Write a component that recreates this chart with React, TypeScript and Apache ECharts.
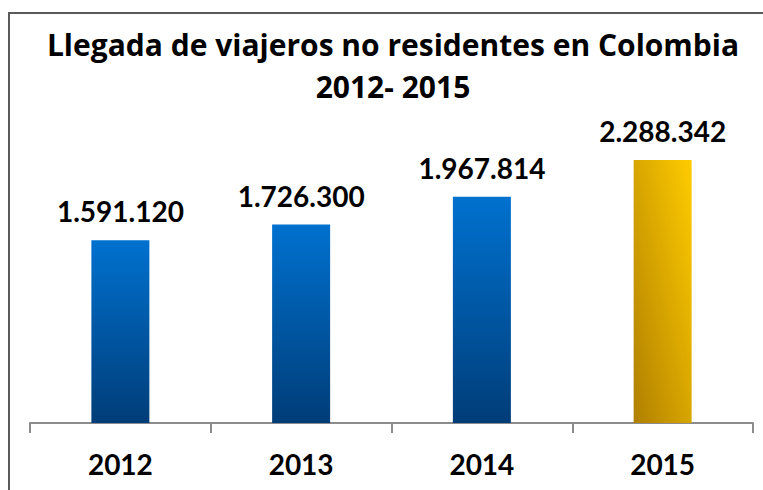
import React, { useEffect, useRef } from "react";
import * as echarts from "echarts";

const categories = ["2012", "2013", "2014", "2015"];
const values = [1591120, 1726300, 1967814, 2288342];
const valueLabels = ["1.591.120", "1.726.300", "1.967.814", "2.288.342"];
const titleLines = ["Llegada de viajeros no residentes en Colombia", "2012- 2015"];

const FONT = "Lato, 'Open Sans', sans-serif";
const TITLE_FONT = "'Open Sans', Lato, sans-serif";

export default function App() {
  const ref = useRef<HTMLDivElement>(null);
  useEffect(() => {
    document.body.style.margin = "0";
    const chart = echarts.init(ref.current!, null, { renderer: "svg" });
    const blue = new echarts.graphic.LinearGradient(0, 0, 0, 1, [
      { offset: 0, color: "#0071cf" },
      { offset: 1, color: "#003d78" },
    ]);
    const gold = new echarts.graphic.LinearGradient(1, 0, 0, 1, [
      { offset: 0, color: "#ffcc00" },
      { offset: 1, color: "#b07f00" },
    ]);
    const titleStyle = {
      fontFamily: TITLE_FONT,
      fontWeight: "bold",
      fontSize: 30,
      fill: "#000000",
      textAlign: "center",
      textVerticalAlign: "middle",
    };
    chart.setOption({
      animation: false,
      backgroundColor: "#ffffff",
      graphic: [
        {
          type: "rect",
          shape: { x: 9, y: 13, width: 900, height: 600 },
          style: { fill: "none", stroke: "#5a5a5a", lineWidth: 2 },
          silent: true,
        },
        {
          type: "text",
          x: 393,
          y: 44,
          style: { ...titleStyle, text: titleLines[0] },
          silent: true,
        },
        {
          type: "text",
          x: 393,
          y: 86,
          style: { ...titleStyle, text: titleLines[1] },
          silent: true,
        },
      ],
      grid: { left: 30, right: 10, top: 135.7, bottom: 67, containLabel: false },
      xAxis: {
        type: "category",
        data: categories,
        axisLine: { lineStyle: { color: "#8c8c8c", width: 2 } },
        axisTick: { show: true, length: 10, lineStyle: { color: "#8c8c8c", width: 2 } },
        axisLabel: {
          margin: 27,
          fontFamily: FONT,
          fontWeight: "bold",
          fontSize: 28,
          color: "#000000",
        },
      },
      yAxis: {
        type: "value",
        min: 0,
        max: 2500000,
        show: false,
        splitLine: { show: false },
      },
      series: [
        {
          type: "bar",
          barWidth: 58,
          data: values.map((v, i) => ({
            value: v,
            itemStyle: { color: i === values.length - 1 ? gold : blue },
          })),
          label: {
            show: true,
            position: "top",
            distance: 15,
            formatter: (p: any) => valueLabels[p.dataIndex],
            fontFamily: FONT,
            fontWeight: "bold",
            fontSize: 28,
            color: "#000000",
          },
        },
      ],
    });
    return () => chart.dispose();
  }, []);
  return <div ref={ref} style={{ width: 763, height: 490 }} />;
}
